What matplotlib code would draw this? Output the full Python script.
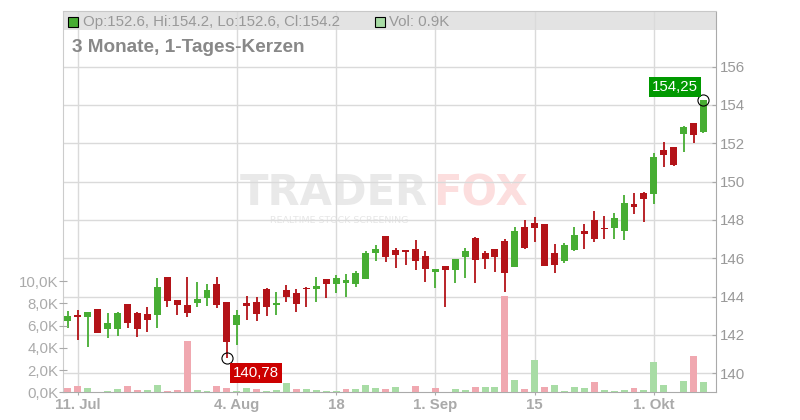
import numpy as np
import pandas as pd
import matplotlib
matplotlib.use("Agg")
import matplotlib.pyplot as plt
from matplotlib.patches import Rectangle

plt.rcParams['font.family'] = ['Liberation Sans', 'DejaVu Sans']

# ----------------------------------------------------
# Data: daily candles, 10 Jul - 8 Oct 2025
# ----------------------------------------------------
dates = pd.bdate_range("2025-07-10", "2025-10-08")

opens = [142.74, 143.04, 142.92, 143.34, 142.33, 142.33, 143.60, 143.13, 143.09, 143.04,
         145.04, 143.82, 143.56, 143.68, 143.91, 144.66, 143.70, 142.52, 143.68, 143.70,
         144.38, 143.56, 144.35, 144.17, 144.45, 144.40, 144.92, 144.66, 144.73, 144.66,
         144.93, 146.29, 147.16, 146.43, 146.42, 146.48, 146.12, 145.30, 145.60, 145.40,
         146.08, 147.06, 146.28, 146.48, 146.92, 145.56, 147.62, 147.84, 147.79, 146.29,
         145.87, 146.43, 147.42, 147.98, 147.57, 147.60, 147.44, 148.83, 149.42, 149.35,
         151.65, 151.79, 152.47, 153.07, 152.60]
highs = [143.25, 143.30, 143.20, 143.34, 143.13, 143.21, 143.60, 143.18, 143.44, 144.96,
         145.04, 143.82, 145.04, 144.75, 144.66, 145.04, 143.70, 143.30, 144.03, 143.96,
         144.43, 144.26, 144.61, 144.38, 144.49, 145.01, 144.92, 145.13, 145.18, 145.34,
         146.38, 146.69, 147.16, 146.54, 146.43, 146.95, 146.38, 145.43, 145.60, 145.96,
         146.55, 147.11, 146.40, 146.48, 147.01, 147.62, 148.00, 148.15, 147.79, 146.76,
         146.80, 147.63, 147.79, 148.47, 148.21, 148.35, 149.30, 149.39, 149.47, 151.49,
         152.08, 151.79, 152.90, 153.07, 154.25]
lows = [142.38, 141.74, 141.39, 142.12, 141.86, 141.95, 142.38, 141.91, 142.17, 142.35,
        143.47, 143.04, 142.92, 143.47, 143.53, 143.42, 140.78, 141.48, 142.78, 142.73,
        142.99, 143.04, 143.73, 143.21, 143.47, 143.73, 143.91, 144.20, 144.00, 144.52,
        144.93, 145.87, 145.79, 145.49, 145.66, 145.39, 144.78, 144.47, 143.47, 144.73,
        144.97, 144.69, 145.42, 145.30, 144.26, 145.56, 146.48, 146.86, 145.61, 145.22,
        145.77, 146.38, 146.47, 146.86, 147.00, 146.99, 146.95, 148.31, 147.91, 148.83,
        150.78, 150.82, 151.56, 152.00, 152.55]
closes = [142.99, 142.92, 143.18, 142.12, 142.61, 143.13, 142.64, 142.33, 142.78, 144.49,
          143.79, 143.56, 143.13, 143.86, 144.35, 143.56, 141.65, 143.04, 143.51, 143.09,
          143.47, 143.68, 144.00, 143.61, 144.40, 144.55, 144.66, 144.96, 144.87, 145.22,
          146.29, 146.48, 146.08, 146.19, 146.35, 145.87, 145.46, 145.43, 145.40, 145.96,
          146.38, 145.93, 145.95, 146.08, 145.25, 147.42, 146.55, 147.60, 145.61, 145.66,
          146.69, 147.21, 147.28, 146.99, 147.53, 148.10, 148.87, 148.69, 149.11, 151.30,
          151.40, 150.87, 152.86, 152.43, 154.25]
volumes_k = [0.41, 0.53, 0.42, 0.00, 0.12, 0.30, 0.53, 0.24, 0.24, 0.66,
             0.15, 0.21, 4.65, 0.21, 0.15, 0.57, 0.42, 0.12, 0.39, 0.30,
             0.12, 0.21, 0.84, 0.30, 0.30, 0.21, 0.12, 0.12, 0.30, 0.30,
             0.66, 0.39, 0.30, 0.48, 0.00, 0.57, 0.00, 0.39, 0.00, 0.30,
             0.21, 0.48, 0.48, 0.48, 8.68, 1.11, 0.30, 2.90, 0.48, 0.66,
             0.12, 0.48, 0.39, 0.93, 0.21, 0.12, 0.21, 0.39, 0.21, 2.73,
             0.66, 0.00, 1.02, 3.27, 0.93]
prev_close = 143.2  # close before the first shown day

tick_dates = ["2025-07-11", "2025-08-04", "2025-08-18", "2025-09-01", "2025-09-15", "2025-10-01"]
tick_labels = ["11. Jul", "4. Aug", "18", "1. Sep", "15", "1. Okt"]
price_ticks = [140, 142, 144, 146, 148, 150, 152, 154, 156]
vol_ticks = [0, 2, 4, 6, 8, 10]

GREEN = "#47ad33"
RED = "#b31318"
VGREEN = "#a8dca5"
VRED = "#f0a8b0"
TXT = "#999999"

o = np.array(opens)
h = np.array(highs)
l = np.array(lows)
c = np.array(closes)
v = np.array(volumes_k)
x = np.arange(len(dates))

# ----------------------------------------------------
# Figure & axes
# ----------------------------------------------------
fig = plt.figure(figsize=(8, 4.2), dpi=100)
ax = fig.add_axes([63 / 800, 27.7 / 420, 653 / 800, 380.8 / 420])
axv = ax.twinx()
axv.patch.set_visible(False)

ax.set_xlim(-0.5, 65.26)
ax.set_ylim(139.01, 158.87)
axv.set_ylim(0, 34.3)

# header band
ax.add_patch(Rectangle((0, 0.9514), 1, 0.0486, transform=ax.transAxes,
                       facecolor="#e3e3e3", edgecolor="none", zorder=0.2))

# grid
ax.set_axisbelow(True)
ax.set_yticks(price_ticks)
ax.set_yticklabels([str(p) for p in price_ticks])
tick_idx = [dates.get_loc(pd.Timestamp(d)) for d in tick_dates]
ax.set_xticks(tick_idx)
ax.set_xticklabels(tick_labels, fontweight="bold")
ax.grid(True, color="#dadada", linewidth=1.0)

# watermark
ax.text(240 / 800, 1 - 205 / 420, "TRADER", transform=fig.transFigure, fontsize=30,
        family="DejaVu Sans", fontweight="bold", color="#e9e9e9", ha="left",
        va="baseline", zorder=0.4)
ax.text(433 / 800, 1 - 205 / 420, "FOX", transform=fig.transFigure, fontsize=30,
        family="DejaVu Sans", fontweight="bold", color="#fcdede", ha="left",
        va="baseline", zorder=0.4)
ax.text(339 / 800, 1 - 223 / 420, "REALTIME STOCK SCREENING", transform=fig.transFigure,
        fontsize=6.8, family="DejaVu Sans", color="#e6e6e6", ha="center", va="baseline",
        zorder=0.4)

# candles
up = c >= o
col = np.where(up, GREEN, RED)
ax.vlines(x, l, h, colors=col, linewidth=1.3, zorder=2)
body_h = np.maximum(np.abs(c - o), 0.05)
ax.bar(x, body_h, bottom=np.minimum(o, c), width=0.7, color=col, zorder=3)

# volume, coloured by close-to-close change
prev = np.concatenate([[prev_close], c[:-1]])
vcol = np.where(c >= prev, VGREEN, VRED)
axv.bar(x, v, width=0.7, color=vcol, zorder=2)

# markers for high / low
i_lo = int(np.argmin(l))
i_hi = int(np.argmax(h))
ax.plot([i_lo, i_hi], [l[i_lo], h[i_hi]], "o", ms=8, mfc="none", mec="black", mew=0.8, zorder=5)
ax.annotate(f"{l[i_lo]:.2f}".replace(".", ","), xy=(i_lo, l[i_lo]), xytext=(20.7, -10.2),
            textcoords="offset points", ha="center", va="center", color="white", fontsize=10.8,
            bbox=dict(boxstyle="square,pad=0.2", fc="#cc0000", ec="none"), zorder=6)
ax.annotate(f"{h[i_hi]:.2f}".replace(".", ","), xy=(i_hi, h[i_hi]), xytext=(-20.7, 9.7),
            textcoords="offset points", ha="center", va="center", color="white", fontsize=10.8,
            bbox=dict(boxstyle="square,pad=0.2", fc="#009900", ec="none"), zorder=6)

# axes styling
ax.yaxis.tick_right()
ax.tick_params(axis="y", direction="in", length=3, width=0.8, color="#aaaaaa",
               labelcolor=TXT, labelsize=10.8, pad=3)
ax.tick_params(axis="x", direction="out", length=2.2, width=0.8, color="#aaaaaa",
               labelcolor="#aaaaaa", labelsize=10.8, pad=2)
axv.yaxis.tick_left()
axv.set_yticks(vol_ticks)
axv.set_yticklabels([f"{t:.1f}K".replace(".", ",") for t in vol_ticks])
axv.tick_params(axis="y", direction="inout", length=5.5, width=0.8, color="#aaaaaa",
                labelcolor="#aaaaaa", labelsize=10.8, pad=0.5)
for s in axv.spines.values():
    s.set_visible(False)
ax.spines["left"].set_color("#cccccc")
ax.spines["top"].set_color("#c8c8c8")
ax.spines["right"].set_color("#aaaaaa")
ax.spines["bottom"].set_color("#aaaaaa")

# header texts
fig.patches.append(Rectangle((68.3 / 800, 1 - 26.7 / 420), 10 / 800, 10 / 420,
                             transform=fig.transFigure, facecolor=GREEN, edgecolor="black", linewidth=0.8))
fig.text(83 / 800, 1 - 22 / 420,
         f"Op:{o[-1]:.1f}, Hi:{h[-1]:.1f}, Lo:{l[-1]:.1f}, Cl:{c[-1]:.1f}",
         fontsize=10.8, color=TXT, va="center", ha="left")
fig.patches.append(Rectangle((375 / 800, 1 - 26.7 / 420), 10 / 800, 10 / 420,
                             transform=fig.transFigure, facecolor=VGREEN, edgecolor="black", linewidth=0.8))
fig.text(389 / 800, 1 - 22 / 420, f"Vol: {v[-1]:.1f}K", fontsize=10.8, color=TXT,
         va="center", ha="left")
fig.text(72 / 800, 1 - 47.5 / 420, "3 Monate, 1-Tages-Kerzen", fontsize=13.7,
         fontweight="bold", color="#888888", va="center", ha="left")

fig.savefig("out.png", dpi=100)
